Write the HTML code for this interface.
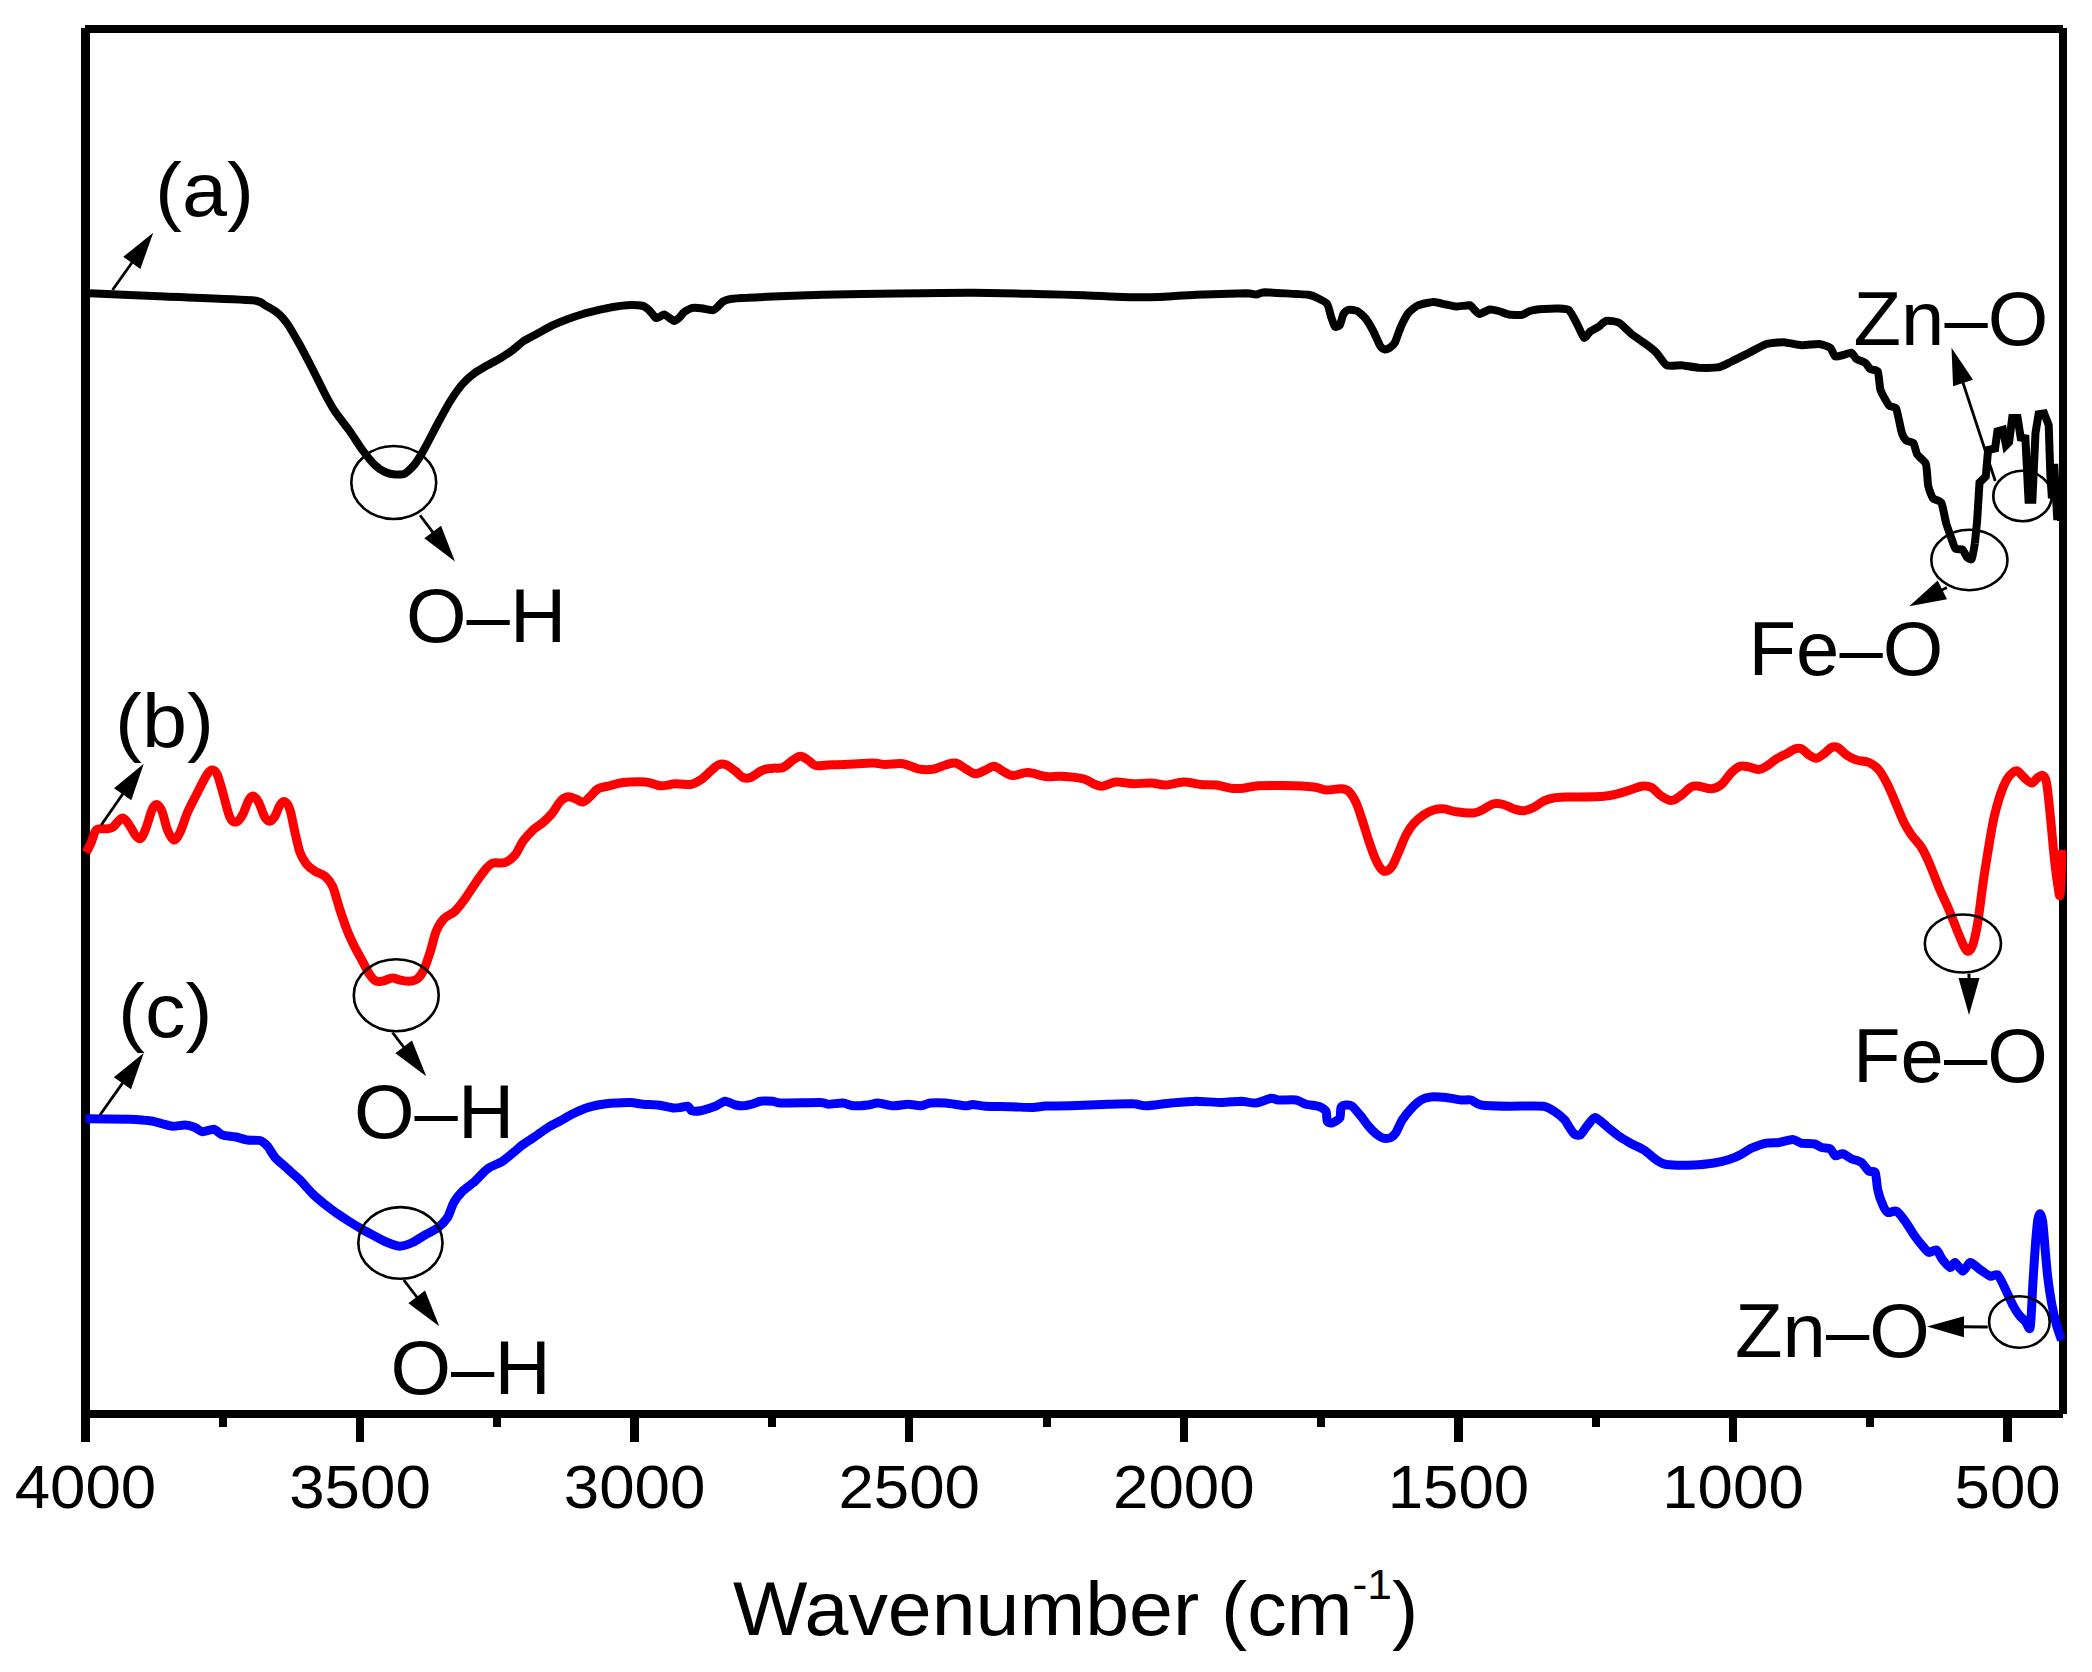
<!DOCTYPE html>
<html lang="en"><head><meta charset="utf-8"><title>FTIR spectra</title>
<style>html,body{margin:0;padding:0;background:#fff}svg{display:block}text{font-family:"Liberation Sans",Arial,sans-serif;fill:#000}</style>
</head><body>
<svg width="2092" height="1672" viewBox="0 0 2092 1672">
<rect width="2092" height="1672" fill="#fff"/>
<g fill="#000" shape-rendering="crispEdges">
<rect x="85.2" y="25" width="1977.80" height="8"/>
<rect x="81.3" y="28" width="8.4" height="1413.50"/>
<rect x="2059.1" y="28" width="8" height="1385.50"/>
<rect x="81.3" y="1410.25" width="1981.45" height="8"/>
<rect x="355.85" y="1414" width="8.3" height="27.5"/>
<rect x="630.45" y="1414" width="8.3" height="27.5"/>
<rect x="905.05" y="1414" width="8.3" height="27.5"/>
<rect x="1179.65" y="1414" width="8.3" height="27.5"/>
<rect x="1454.25" y="1414" width="8.3" height="27.5"/>
<rect x="1728.85" y="1414" width="8.3" height="27.5"/>
<rect x="2003.45" y="1414" width="8.3" height="27.5"/>
<rect x="218.70" y="1414" width="8" height="13.25"/>
<rect x="493.30" y="1414" width="8" height="13.25"/>
<rect x="767.90" y="1414" width="8" height="13.25"/>
<rect x="1042.50" y="1414" width="8" height="13.25"/>
<rect x="1317.10" y="1414" width="8" height="13.25"/>
<rect x="1591.70" y="1414" width="8" height="13.25"/>
<rect x="1866.30" y="1414" width="8" height="13.25"/>
</g>
<g fill="none" stroke-linejoin="round" stroke-linecap="butt">
<path d="M89.5 293.2C97.0 293.6 148.7 295.8 165.0 296.5C181.3 297.2 242.5 299.4 252.5 300.2C262.5 301.1 262.5 304.0 265.0 305.2C267.5 306.5 275.2 310.9 277.5 312.8C279.8 314.6 285.2 320.8 287.5 324.0C289.8 327.2 297.5 340.8 300.0 345.2C302.5 349.8 310.0 364.1 312.5 369.0C315.0 373.9 322.8 389.8 325.0 394.0C327.2 398.2 332.5 407.8 335.0 411.5C337.5 415.2 347.2 427.6 350.0 431.5C352.8 435.4 360.0 446.9 362.5 450.2C365.0 453.6 372.8 463.1 375.0 465.2C377.2 467.4 383.0 471.1 385.0 472.0C387.0 472.9 393.0 474.4 395.0 474.5C397.0 474.6 403.0 474.6 405.0 473.5C407.0 472.4 413.0 466.6 415.0 464.0C417.0 461.4 422.8 451.8 425.0 447.8C427.2 443.8 435.0 428.6 437.5 424.0C440.0 419.4 447.5 405.5 450.0 401.5C452.5 397.5 460.0 386.9 462.5 384.0C465.0 381.1 472.5 374.6 475.0 372.8C477.5 370.9 485.0 366.7 487.5 365.2C490.0 363.8 497.5 360.0 500.0 358.5C502.5 357.0 510.2 351.9 512.5 350.2C514.8 348.6 520.5 343.2 523.0 341.5C525.5 339.8 535.0 334.9 538.0 333.2C541.0 331.6 550.0 326.7 553.0 325.2C556.0 323.8 565.0 320.1 568.0 319.0C571.0 317.9 580.0 314.9 583.0 314.0C586.0 313.1 595.0 310.9 598.0 310.2C601.0 309.6 610.1 307.5 613.0 307.0C615.9 306.5 623.8 305.4 626.8 305.2C629.8 305.1 640.8 305.5 643.0 306.0C645.2 306.5 648.0 309.1 649.2 310.2C650.5 311.4 654.5 317.1 655.5 317.8C656.5 318.4 658.4 317.3 659.2 317.0C660.1 316.7 663.2 314.4 664.2 314.5C665.2 314.6 668.2 317.1 669.2 317.8C670.2 318.4 673.2 321.0 674.2 321.0C675.2 321.0 678.2 318.6 679.2 317.8C680.2 316.9 682.9 313.0 684.2 312.0C685.6 311.0 691.1 308.1 693.0 307.8C694.9 307.4 701.0 308.2 703.0 308.5C705.0 308.8 711.5 310.4 713.0 310.2C714.5 310.1 717.0 307.4 718.0 306.5C719.0 305.6 721.8 302.2 723.0 301.5C724.2 300.8 728.0 299.4 730.5 299.0C733.0 298.6 743.8 298.0 748.0 297.8C752.2 297.5 765.5 296.8 773.0 296.5C780.5 296.2 810.5 295.1 823.0 294.8C835.5 294.4 883.0 293.7 898.0 293.5C913.0 293.3 958.2 292.7 973.0 292.8C987.8 292.8 1035.0 294.0 1046.0 294.2C1057.0 294.5 1074.8 294.9 1083.5 295.2C1092.2 295.6 1126.0 297.1 1133.5 297.2C1141.0 297.4 1152.2 297.2 1158.5 297.0C1164.8 296.8 1187.2 295.1 1196.0 294.8C1204.8 294.4 1240.0 293.3 1246.0 293.2C1252.0 293.2 1254.1 294.6 1256.0 294.5C1257.9 294.4 1260.8 292.3 1264.8 292.2C1268.8 292.2 1291.6 293.8 1296.0 294.0C1300.4 294.2 1306.2 294.3 1308.5 294.8C1310.8 295.2 1316.6 297.6 1318.5 298.5C1320.4 299.4 1326.0 302.2 1327.2 304.0C1328.5 305.8 1330.2 314.2 1331.0 316.5C1331.8 318.8 1333.9 325.6 1334.8 326.5C1335.6 327.4 1338.9 326.5 1339.8 325.2C1340.6 324.0 1342.6 315.6 1343.5 314.0C1344.4 312.4 1347.1 310.1 1348.5 309.8C1349.9 309.4 1355.5 310.1 1357.2 311.0C1359.0 311.9 1364.4 316.9 1366.0 319.0C1367.6 321.1 1372.1 328.9 1373.5 331.5C1374.9 334.1 1378.6 343.4 1379.8 345.2C1380.9 347.1 1383.8 349.2 1384.8 349.5C1385.8 349.8 1388.8 348.4 1389.8 347.8C1390.8 347.1 1393.6 344.9 1394.8 342.8C1395.9 340.6 1399.6 329.5 1401.0 326.5C1402.4 323.5 1406.8 314.9 1408.5 312.8C1410.2 310.6 1416.0 306.3 1418.5 305.2C1421.0 304.2 1430.8 302.1 1433.5 302.0C1436.2 301.9 1443.8 304.1 1446.0 304.5C1448.2 304.9 1453.6 306.4 1456.0 306.5C1458.4 306.6 1467.9 304.9 1469.8 305.2C1471.6 305.6 1473.8 309.4 1474.8 310.2C1475.8 311.1 1478.2 314.1 1479.8 314.0C1481.2 313.9 1487.9 309.8 1489.8 309.5C1491.6 309.2 1496.6 310.5 1498.5 311.0C1500.4 311.5 1506.1 314.1 1508.5 314.5C1510.9 314.9 1520.1 315.1 1522.2 314.8C1524.4 314.4 1527.6 311.6 1529.8 311.0C1531.9 310.4 1540.6 309.2 1543.5 309.0C1546.4 308.8 1556.0 308.4 1558.5 308.5C1561.0 308.6 1567.2 308.8 1569.0 310.2C1570.8 311.7 1575.0 320.0 1576.5 322.8C1578.0 325.5 1582.6 336.9 1584.0 337.8C1585.4 338.6 1588.8 332.6 1590.2 331.5C1591.8 330.4 1597.4 327.6 1599.0 326.5C1600.6 325.4 1604.5 321.1 1606.5 320.8C1608.5 320.4 1616.5 321.4 1619.0 322.8C1621.5 324.1 1629.0 332.0 1631.5 334.0C1634.0 336.0 1641.5 340.9 1644.0 342.8C1646.5 344.6 1654.2 350.5 1656.5 352.8C1658.8 355.0 1664.0 364.0 1666.5 365.2C1669.0 366.5 1678.2 365.0 1681.5 365.2C1684.8 365.5 1695.2 367.6 1699.0 367.8C1702.8 367.9 1715.8 367.9 1719.0 367.2C1722.2 366.6 1728.5 362.9 1731.5 361.5C1734.5 360.1 1745.5 354.5 1749.0 352.8C1752.5 351.0 1763.0 345.1 1766.5 344.0C1770.0 342.9 1780.5 342.1 1784.0 342.2C1787.5 342.4 1798.0 345.1 1801.5 345.2C1805.0 345.4 1816.1 343.8 1819.0 344.0C1821.9 344.2 1828.6 346.5 1830.2 347.8C1831.9 349.0 1833.9 355.8 1835.2 356.5C1836.6 357.2 1842.4 355.1 1844.0 354.8C1845.6 354.4 1850.2 352.3 1851.5 352.8C1852.8 353.2 1855.1 358.0 1856.5 359.0C1857.9 360.0 1863.9 361.8 1865.2 362.8C1866.6 363.8 1869.0 368.1 1870.2 369.0C1871.5 369.9 1876.8 369.5 1877.8 371.5C1878.8 373.5 1879.7 386.6 1880.2 389.0C1880.8 391.4 1882.2 393.8 1883.1 395.5C1884.0 397.2 1888.0 404.4 1889.3 405.7C1890.6 407.0 1895.0 406.1 1896.3 408.8C1897.5 411.5 1900.8 429.7 1901.8 432.9C1902.8 436.1 1905.2 439.6 1906.4 440.6C1907.6 441.6 1912.3 441.6 1913.4 443.0C1914.5 444.4 1916.0 452.5 1917.3 454.6C1918.5 456.7 1924.8 460.9 1925.9 464.0C1927.0 467.1 1927.5 482.4 1928.2 485.8C1928.9 489.2 1931.6 496.5 1932.9 498.2C1934.2 499.9 1940.1 500.4 1941.4 502.9C1942.7 505.4 1945.1 519.4 1946.1 523.0C1947.1 526.6 1950.6 536.0 1951.5 538.6C1952.4 541.2 1954.3 547.6 1955.4 548.7C1956.5 549.8 1961.2 548.6 1962.4 549.5C1963.6 550.4 1966.2 556.4 1967.1 557.3C1968.0 558.2 1971.0 560.2 1971.8 558.8C1972.6 557.4 1974.6 544.8 1974.9 543.3" stroke="#000" stroke-width="8"/>
<path d="M1974.9 543.3L1977.2 520.0L1979.5 482.6L1985.8 476.4L1988.1 450.0L1995.1 448.4L1997.4 431.3L2002.9 429.8L2006.0 445.3L2009.1 442.2L2012.2 418.1L2017.6 418.1L2020.7 437.5L2025.4 438.3L2028.5 499.8L2032.4 499.8L2035.5 432.9L2038.6 414.2L2044.1 413.4L2048.7 425.1L2050.3 473.3L2051.9 498.2L2054.2 464.0L2057.3 520.0L2060.0 480.0L2061.0 521.0" stroke="#000" stroke-width="8" stroke-linejoin="miter" stroke-miterlimit="3"/>
<path d="M86.2 852.5C87.1 850.8 89.6 846.2 91.2 842.5C92.9 838.8 94.0 832.3 96.2 830.0C98.5 827.7 102.3 829.2 105.0 828.8C107.7 828.3 109.6 829.3 112.5 827.5C115.4 825.7 119.6 818.2 122.5 818.0C125.4 817.8 127.7 823.2 130.0 826.2C132.3 829.3 134.4 834.3 136.2 836.2C138.1 838.2 139.6 839.5 141.2 838.0C142.9 836.5 144.4 832.4 146.2 827.5C148.1 822.6 150.7 812.6 152.5 808.8C154.3 804.9 155.4 804.1 157.0 804.5C158.6 804.9 160.2 807.0 162.0 811.2C163.8 815.5 165.5 825.2 167.5 830.0C169.5 834.8 171.7 839.6 173.8 840.0C175.8 840.4 177.7 837.1 180.0 832.5C182.3 827.9 184.6 819.2 187.5 812.5C190.4 805.8 194.2 799.0 197.5 792.5C200.8 786.0 205.0 777.5 207.5 773.8C210.0 770.0 210.8 769.8 212.5 770.0C214.2 770.2 215.6 770.6 217.5 775.0C219.4 779.4 221.7 789.2 223.8 796.2C225.8 803.3 227.9 813.2 230.0 817.5C232.1 821.8 234.2 822.4 236.2 822.0C238.3 821.6 240.4 818.7 242.5 815.0C244.6 811.3 246.9 803.1 248.8 800.0C250.6 796.9 252.1 795.8 253.8 796.2C255.4 796.7 256.9 799.0 258.8 802.5C260.6 806.0 263.1 814.4 265.0 817.5C266.9 820.6 268.3 821.5 270.0 821.2C271.7 821.0 273.3 819.0 275.0 816.2C276.7 813.5 278.3 807.4 280.0 805.0C281.7 802.6 283.3 800.9 285.0 801.8C286.7 802.6 288.3 804.9 290.0 810.0C291.7 815.1 293.3 825.4 295.0 832.5C296.7 839.6 298.1 847.3 300.0 852.5C301.9 857.7 303.8 860.6 306.2 863.8C308.8 866.9 311.9 869.2 315.0 871.2C318.1 873.3 322.1 873.8 325.0 876.2C327.9 878.8 330.0 880.6 332.5 886.2C335.0 891.9 337.5 902.5 340.0 910.0C342.5 917.5 345.0 925.0 347.5 931.2C350.0 937.5 352.5 942.5 355.0 947.5C357.5 952.5 360.0 956.7 362.5 961.2C365.0 965.8 367.7 971.7 370.0 975.0C372.3 978.3 374.0 980.3 376.2 981.2C378.5 982.2 381.0 981.3 383.8 980.8C386.5 980.2 389.8 978.1 392.5 978.0C395.2 977.9 397.1 979.5 400.0 980.0C402.9 980.5 407.1 981.5 410.0 981.2C412.9 981.0 415.2 980.6 417.5 978.8C419.8 976.9 421.7 974.4 423.8 970.0C425.8 965.6 427.9 959.0 430.0 952.5C432.1 946.0 434.0 936.9 436.2 931.2C438.5 925.6 440.6 922.1 443.8 918.8C446.9 915.4 451.5 914.6 455.0 911.2C458.5 907.9 461.7 903.3 465.0 898.8C468.3 894.2 471.7 888.5 475.0 883.8C478.3 879.0 482.1 873.4 485.0 870.0C487.9 866.6 489.2 864.5 492.5 863.2C495.8 862.0 501.2 863.9 505.0 862.5C508.8 861.1 512.0 858.5 515.0 855.0C518.0 851.5 520.0 845.4 523.0 841.2C526.0 837.1 529.7 833.1 533.0 830.0C536.3 826.9 539.9 825.2 543.0 822.5C546.1 819.8 548.8 817.3 551.8 813.8C554.7 810.2 557.8 804.1 560.5 801.2C563.2 798.4 565.5 797.2 568.0 796.8C570.5 796.3 573.0 797.9 575.5 798.8C578.0 799.6 580.5 802.4 583.0 802.0C585.5 801.6 588.0 798.5 590.5 796.2C593.0 794.0 595.1 790.4 598.0 788.8C600.9 787.1 603.8 787.3 608.0 786.2C612.2 785.2 616.8 783.2 623.0 782.5C629.2 781.8 639.2 781.5 645.5 782.0C651.8 782.5 655.5 785.5 660.5 785.8C665.5 786.0 670.5 784.0 675.5 783.8C680.5 783.5 686.3 785.1 690.5 784.5C694.7 783.9 697.2 782.2 700.5 780.0C703.8 777.8 707.6 773.8 710.5 771.2C713.4 768.8 715.5 766.1 718.0 765.0C720.5 763.9 722.6 763.5 725.5 764.5C728.4 765.5 732.6 769.1 735.5 771.2C738.4 773.4 740.5 776.5 743.0 777.5C745.5 778.5 747.2 778.8 750.5 777.5C753.8 776.2 759.2 771.5 763.0 770.0C766.8 768.5 769.7 768.7 773.0 768.2C776.3 767.8 779.7 768.9 783.0 767.5C786.3 766.1 790.1 761.9 793.0 760.0C795.9 758.1 798.0 756.2 800.5 756.2C803.0 756.2 805.5 758.5 808.0 760.0C810.5 761.5 812.2 764.7 815.5 765.5C818.8 766.3 822.6 765.2 828.0 765.0C833.4 764.8 840.5 764.6 848.0 764.2C855.5 763.9 866.8 763.0 873.0 763.0C879.2 763.0 880.5 764.4 885.5 764.5C890.5 764.6 897.6 763.0 903.0 763.8C908.4 764.5 913.0 767.8 918.0 768.8C923.0 769.7 928.4 769.9 933.0 769.2C937.6 768.6 941.8 766.0 945.5 765.0C949.2 764.0 952.2 762.4 955.5 763.0C958.8 763.6 962.2 767.0 965.5 768.8C968.8 770.5 972.2 773.5 975.5 773.8C978.8 774.0 982.4 771.2 985.5 770.0C988.6 768.8 991.3 766.0 994.2 766.2C997.2 766.5 999.9 769.7 1003.0 771.2C1006.1 772.8 1008.8 775.3 1013.0 775.5C1017.2 775.7 1022.5 772.3 1028.0 772.5C1033.5 772.7 1040.5 775.9 1046.0 776.5C1051.5 777.1 1054.8 775.9 1061.0 776.2C1067.2 776.6 1078.1 777.5 1083.5 778.8C1088.9 780.0 1090.4 782.5 1093.5 783.8C1096.6 785.0 1098.5 786.5 1102.2 786.2C1106.0 786.0 1110.8 782.4 1116.0 782.0C1121.2 781.6 1127.7 783.6 1133.5 783.8C1139.3 783.9 1145.6 782.8 1151.0 783.0C1156.4 783.2 1160.6 785.2 1166.0 785.0C1171.4 784.8 1177.7 782.1 1183.5 782.0C1189.3 781.9 1195.6 784.0 1201.0 784.5C1206.4 785.0 1211.0 784.4 1216.0 785.0C1221.0 785.6 1226.4 787.7 1231.0 788.2C1235.6 788.8 1238.9 788.7 1243.5 788.2C1248.1 787.8 1251.8 786.2 1258.5 785.8C1265.2 785.3 1274.3 785.3 1283.5 785.5C1292.7 785.7 1306.4 786.2 1313.5 787.0C1320.6 787.8 1321.4 789.7 1326.0 790.0C1330.6 790.3 1337.2 788.5 1341.0 788.8C1344.8 789.0 1346.0 789.0 1348.5 791.2C1351.0 793.5 1353.7 797.7 1356.0 802.5C1358.3 807.3 1360.2 813.8 1362.2 820.0C1364.3 826.2 1366.4 833.8 1368.5 840.0C1370.6 846.2 1372.7 852.7 1374.8 857.5C1376.8 862.3 1379.1 866.5 1381.0 868.8C1382.9 871.0 1384.1 871.7 1386.0 871.2C1387.9 870.8 1390.2 869.4 1392.2 866.2C1394.3 863.1 1396.2 857.7 1398.5 852.5C1400.8 847.3 1403.5 839.8 1406.0 835.0C1408.5 830.2 1410.6 827.1 1413.5 823.8C1416.4 820.4 1420.2 817.3 1423.5 815.0C1426.8 812.7 1430.2 811.0 1433.5 810.0C1436.8 809.0 1439.8 808.5 1443.5 808.8C1447.2 809.0 1451.0 811.0 1456.0 811.8C1461.0 812.5 1468.9 813.4 1473.5 813.0C1478.1 812.6 1480.2 810.8 1483.5 809.2C1486.8 807.7 1490.2 804.5 1493.5 803.8C1496.8 803.0 1500.2 803.7 1503.5 804.5C1506.8 805.3 1510.2 807.7 1513.5 808.8C1516.8 809.8 1520.2 811.0 1523.5 810.8C1526.8 810.5 1530.2 809.1 1533.5 807.5C1536.8 805.9 1540.2 802.8 1543.5 801.2C1546.8 799.7 1549.2 798.7 1553.5 798.0C1557.8 797.3 1560.6 797.3 1569.0 797.0C1577.4 796.7 1594.4 797.2 1604.0 796.2C1613.6 795.3 1620.2 792.9 1626.5 791.2C1632.8 789.6 1637.3 786.9 1641.5 786.2C1645.7 785.6 1648.2 785.8 1651.5 787.5C1654.8 789.2 1658.2 794.1 1661.5 796.2C1664.8 798.4 1668.2 800.7 1671.5 800.5C1674.8 800.3 1678.2 797.3 1681.5 795.0C1684.8 792.7 1688.6 788.2 1691.5 786.8C1694.4 785.3 1695.7 785.9 1699.0 786.2C1702.3 786.6 1707.8 789.0 1711.5 788.8C1715.2 788.5 1718.2 787.2 1721.5 784.5C1724.8 781.8 1728.4 775.5 1731.5 772.5C1734.6 769.5 1737.3 767.2 1740.2 766.2C1743.2 765.3 1745.9 766.5 1749.0 767.0C1752.1 767.5 1756.1 769.6 1759.0 769.5C1761.9 769.4 1763.6 768.0 1766.5 766.2C1769.4 764.5 1773.2 760.8 1776.5 758.8C1779.8 756.7 1783.4 755.4 1786.5 753.8C1789.6 752.1 1792.8 749.6 1795.2 748.8C1797.8 747.9 1799.2 747.7 1801.5 748.8C1803.8 749.8 1806.5 753.4 1809.0 755.0C1811.5 756.6 1814.0 758.5 1816.5 758.2C1819.0 758.0 1821.5 755.5 1824.0 753.8C1826.5 752.0 1829.2 748.5 1831.5 747.5C1833.8 746.5 1835.2 746.2 1837.8 747.5C1840.2 748.8 1843.4 752.9 1846.5 755.0C1849.6 757.1 1852.8 758.8 1856.5 760.0C1860.2 761.2 1865.2 760.8 1869.0 762.5C1872.8 764.2 1875.9 766.2 1879.0 770.0C1882.1 773.8 1884.8 779.2 1887.8 785.0C1890.7 790.8 1893.8 798.8 1896.5 805.0C1899.2 811.2 1901.5 817.5 1904.0 822.5C1906.5 827.5 1908.6 830.8 1911.5 835.0C1914.4 839.2 1918.6 842.9 1921.5 847.5C1924.4 852.1 1926.1 855.8 1929.0 862.5C1931.9 869.2 1935.7 879.6 1939.0 887.5C1942.3 895.4 1946.1 903.1 1949.0 910.0C1951.9 916.9 1954.2 923.1 1956.5 928.8C1958.8 934.4 1960.9 940.0 1962.8 943.8C1964.6 947.5 1966.1 951.0 1967.8 951.2C1969.4 951.5 1971.1 949.8 1972.8 945.0C1974.4 940.2 1976.1 932.5 1977.8 922.5C1979.4 912.5 1981.1 896.7 1982.8 885.0C1984.4 873.3 1985.9 863.8 1987.8 852.5C1989.6 841.2 1991.9 827.1 1994.0 817.5C1996.1 807.9 1998.2 801.2 2000.2 795.0C2002.3 788.8 2004.4 783.8 2006.5 780.0C2008.6 776.2 2010.9 774.0 2012.8 772.5C2014.6 771.0 2015.9 770.4 2017.8 771.2C2019.6 772.1 2021.7 775.5 2024.0 777.5C2026.3 779.5 2029.2 783.0 2031.5 783.0C2033.8 783.0 2035.9 778.8 2037.8 777.5C2039.6 776.2 2041.3 774.7 2042.8 775.5C2044.2 776.3 2045.2 775.9 2046.5 782.5C2047.8 789.1 2049.0 802.9 2050.2 815.0C2051.5 827.1 2052.8 843.3 2054.0 855.0C2055.2 866.7 2056.7 878.5 2057.8 885.0C2058.8 891.5 2059.5 899.6 2060.2 893.8C2061.0 887.9 2061.7 857.3 2062.0 850.0" stroke="#f00" stroke-width="9"/>
<path d="M85.5 1118.8C90.7 1118.8 122.5 1119.0 130.0 1119.2C137.5 1119.5 146.2 1120.2 150.0 1120.8C153.8 1121.3 159.9 1123.1 162.5 1123.8C165.1 1124.4 169.9 1126.1 172.5 1126.2C175.1 1126.4 182.4 1124.9 185.0 1125.0C187.6 1125.1 193.0 1126.7 195.0 1127.5C197.0 1128.3 200.3 1131.5 202.5 1131.8C204.7 1132.0 211.4 1128.9 213.8 1129.2C216.1 1129.6 220.0 1134.1 222.5 1135.0C225.0 1135.9 232.1 1136.2 235.0 1136.8C237.9 1137.3 244.6 1139.6 247.5 1140.0C250.4 1140.4 257.7 1139.8 260.0 1140.5C262.3 1141.2 265.8 1144.3 267.5 1146.2C269.2 1148.2 272.7 1154.9 275.0 1157.5C277.3 1160.1 284.6 1166.1 287.5 1168.8C290.4 1171.4 297.1 1177.1 300.0 1180.0C302.9 1182.9 309.6 1190.9 312.5 1193.8C315.4 1196.6 322.1 1202.2 325.0 1204.5C327.9 1206.8 334.6 1211.7 337.5 1213.8C340.4 1215.8 347.1 1220.2 350.0 1222.0C352.9 1223.8 359.6 1227.8 362.5 1229.5C365.4 1231.2 372.1 1234.7 375.0 1236.2C377.9 1237.8 384.6 1241.3 387.5 1242.5C390.4 1243.7 397.1 1246.2 400.0 1246.2C402.9 1246.2 409.6 1243.8 412.5 1242.5C415.4 1241.2 422.1 1236.7 425.0 1235.0C427.9 1233.3 434.9 1230.0 437.5 1228.0C440.1 1226.0 445.6 1220.5 447.5 1217.5C449.4 1214.5 452.0 1205.6 453.8 1202.5C455.5 1199.4 460.0 1193.7 462.5 1191.2C465.0 1188.8 472.1 1183.9 475.0 1181.2C477.9 1178.6 484.3 1171.1 487.5 1168.8C490.7 1166.4 499.3 1163.3 502.5 1161.2C505.7 1159.2 512.6 1153.2 515.0 1151.2C517.4 1149.3 520.6 1146.2 523.0 1144.5C525.4 1142.8 532.6 1138.2 535.5 1136.2C538.4 1134.3 545.1 1129.3 548.0 1127.5C550.9 1125.7 557.6 1122.4 560.5 1120.8C563.4 1119.1 570.1 1115.2 573.0 1113.8C575.9 1112.3 582.6 1109.3 585.5 1108.2C588.4 1107.2 595.1 1105.6 598.0 1105.0C600.9 1104.4 606.7 1103.5 610.5 1103.2C614.3 1103.0 626.7 1102.4 630.5 1102.5C634.3 1102.6 639.8 1104.0 643.0 1104.2C646.2 1104.5 654.5 1104.6 658.0 1105.0C661.5 1105.4 670.4 1107.7 673.0 1108.0C675.6 1108.3 678.8 1107.7 680.5 1107.5C682.2 1107.3 686.7 1105.9 688.0 1106.2C689.3 1106.6 690.3 1110.2 691.8 1110.8C693.2 1111.3 697.7 1111.3 700.5 1110.8C703.3 1110.2 712.6 1107.4 715.5 1106.2C718.4 1105.1 722.7 1101.4 725.0 1101.2C727.3 1101.1 733.4 1104.5 735.5 1105.0C737.6 1105.5 741.0 1105.9 743.0 1105.8C745.0 1105.6 751.0 1104.3 753.0 1103.8C755.0 1103.2 758.2 1101.5 760.5 1101.2C762.8 1101.0 770.7 1101.0 773.0 1101.2C775.3 1101.5 775.0 1102.9 780.5 1103.0C786.0 1103.1 815.0 1102.4 820.5 1102.5C826.0 1102.6 825.4 1104.2 828.0 1104.2C830.6 1104.3 840.1 1102.8 843.0 1103.0C845.9 1103.2 850.1 1105.5 853.0 1105.8C855.9 1106.0 865.1 1105.3 868.0 1105.0C870.9 1104.7 875.1 1102.9 878.0 1103.0C880.9 1103.1 889.5 1105.6 893.0 1105.8C896.5 1105.9 904.8 1104.2 908.0 1104.2C911.2 1104.2 917.9 1105.9 920.5 1105.8C923.1 1105.6 927.6 1103.3 930.5 1103.0C933.4 1102.7 941.4 1102.7 945.5 1103.0C949.6 1103.3 962.3 1105.6 965.5 1105.8C968.7 1105.9 970.7 1104.4 973.0 1104.5C975.3 1104.6 981.1 1106.0 985.5 1106.2C989.9 1106.5 1005.0 1106.6 1010.5 1106.8C1016.0 1106.9 1028.9 1107.6 1033.0 1107.5C1037.1 1107.4 1041.6 1106.2 1046.0 1106.0C1050.4 1105.8 1063.7 1106.0 1071.0 1105.8C1078.3 1105.5 1101.2 1104.5 1108.5 1104.2C1115.8 1104.0 1129.1 1103.6 1133.5 1103.8C1137.9 1103.9 1141.6 1105.8 1146.0 1105.8C1150.4 1105.7 1165.2 1103.5 1171.0 1103.0C1176.8 1102.5 1190.2 1101.3 1196.0 1101.2C1201.8 1101.2 1215.8 1102.5 1221.0 1102.5C1226.2 1102.5 1236.9 1101.2 1241.0 1101.2C1245.1 1101.3 1252.5 1103.3 1256.0 1103.0C1259.5 1102.7 1268.4 1098.6 1271.0 1098.2C1273.6 1097.9 1275.6 1099.8 1278.5 1100.0C1281.4 1100.2 1292.8 1099.5 1296.0 1100.0C1299.2 1100.5 1303.4 1103.5 1306.0 1104.2C1308.6 1105.0 1316.2 1105.4 1318.5 1106.2C1320.8 1107.1 1325.0 1109.5 1326.0 1111.2C1327.0 1113.0 1326.5 1119.9 1327.2 1121.2C1328.0 1122.6 1330.8 1123.4 1332.2 1123.0C1333.7 1122.6 1338.7 1119.8 1339.8 1118.0C1340.8 1116.2 1340.3 1109.0 1341.0 1107.5C1341.7 1106.0 1344.7 1105.1 1346.0 1105.0C1347.3 1104.9 1350.5 1104.9 1352.2 1106.2C1354.0 1107.6 1359.1 1113.9 1361.0 1116.2C1362.9 1118.6 1366.8 1124.2 1368.5 1126.2C1370.2 1128.3 1374.2 1132.3 1376.0 1133.8C1377.8 1135.2 1381.8 1137.8 1383.5 1138.2C1385.2 1138.7 1389.5 1138.2 1391.0 1137.5C1392.5 1136.8 1394.7 1134.5 1396.0 1132.5C1397.3 1130.5 1400.5 1122.8 1402.2 1120.0C1404.0 1117.2 1408.8 1111.1 1411.0 1108.8C1413.2 1106.4 1418.7 1101.4 1421.0 1100.0C1423.3 1098.6 1428.1 1097.3 1431.0 1097.0C1433.9 1096.7 1442.5 1097.2 1446.0 1097.5C1449.5 1097.8 1458.1 1099.7 1461.0 1100.0C1463.9 1100.3 1468.7 1099.4 1471.0 1100.0C1473.3 1100.6 1476.6 1104.3 1481.0 1105.0C1485.4 1105.7 1501.2 1106.1 1508.5 1106.2C1515.8 1106.4 1538.0 1105.5 1543.5 1106.2C1549.0 1107.0 1553.5 1110.9 1556.0 1112.5C1558.5 1114.1 1563.2 1118.3 1564.8 1120.0C1566.3 1121.7 1567.9 1125.1 1569.0 1126.8C1570.1 1128.4 1572.7 1132.8 1574.0 1133.8C1575.3 1134.7 1578.6 1136.0 1580.2 1135.0C1581.9 1134.0 1586.0 1127.0 1587.8 1125.0C1589.5 1123.0 1593.1 1117.4 1595.2 1117.5C1597.4 1117.6 1603.7 1124.1 1606.5 1126.2C1609.3 1128.4 1616.1 1134.2 1619.0 1136.2C1621.9 1138.3 1628.6 1142.1 1631.5 1143.8C1634.4 1145.4 1641.1 1148.1 1644.0 1150.0C1646.9 1151.9 1653.9 1158.3 1656.5 1160.0C1659.1 1161.7 1662.1 1163.9 1666.5 1164.5C1670.9 1165.1 1688.5 1165.2 1694.0 1165.0C1699.5 1164.8 1709.9 1163.6 1714.0 1163.0C1718.1 1162.4 1725.8 1160.5 1729.0 1159.5C1732.2 1158.5 1738.9 1155.6 1741.5 1154.2C1744.1 1152.9 1748.6 1149.5 1751.5 1148.2C1754.4 1147.0 1763.3 1143.9 1766.5 1143.2C1769.7 1142.6 1775.9 1142.9 1779.0 1142.5C1782.1 1142.1 1790.1 1139.4 1792.8 1139.5C1795.4 1139.6 1799.0 1142.8 1801.5 1143.2C1804.0 1143.7 1811.7 1143.3 1814.0 1143.8C1816.3 1144.2 1819.6 1146.9 1821.5 1147.5C1823.4 1148.1 1828.6 1147.8 1830.2 1148.8C1831.9 1149.7 1833.8 1155.2 1835.2 1155.8C1836.7 1156.3 1840.9 1153.4 1842.8 1153.8C1844.6 1154.1 1849.3 1157.7 1851.5 1158.8C1853.7 1159.8 1859.5 1161.0 1861.5 1162.5C1863.5 1164.0 1867.4 1170.1 1869.0 1171.2C1870.6 1172.4 1874.2 1170.3 1875.2 1172.5C1876.3 1174.7 1876.9 1186.2 1877.8 1190.0C1878.6 1193.8 1881.6 1202.4 1882.8 1205.0C1883.9 1207.6 1886.1 1211.8 1887.8 1212.5C1889.4 1213.2 1894.5 1210.2 1896.5 1211.2C1898.5 1212.3 1903.2 1218.5 1905.2 1221.2C1907.3 1224.0 1912.0 1232.1 1914.0 1235.0C1916.0 1237.9 1921.0 1244.2 1922.8 1246.2C1924.5 1248.3 1927.4 1252.1 1929.0 1252.5C1930.6 1252.9 1934.9 1249.1 1936.5 1250.0C1938.1 1250.9 1941.1 1258.0 1942.8 1260.0C1944.4 1262.0 1948.8 1267.2 1950.2 1267.5C1951.7 1267.8 1953.8 1262.1 1955.2 1262.5C1956.7 1262.9 1961.0 1271.2 1962.8 1271.2C1964.5 1271.2 1968.4 1262.8 1970.2 1262.5C1972.1 1262.2 1976.7 1267.1 1979.0 1268.8C1981.3 1270.4 1988.1 1275.5 1990.2 1276.2C1992.4 1277.0 1996.0 1273.5 1997.8 1275.0C1999.5 1276.5 2003.5 1285.2 2005.2 1288.8C2007.0 1292.2 2011.1 1301.9 2012.8 1305.0C2014.4 1308.1 2017.5 1313.1 2019.0 1315.0C2020.5 1316.9 2023.9 1319.8 2025.2 1321.2C2026.6 1322.7 2029.4 1331.7 2030.2 1327.5C2031.1 1323.3 2032.2 1294.3 2032.8 1285.0C2033.3 1275.7 2034.7 1255.1 2035.2 1247.5C2035.8 1239.9 2037.2 1223.9 2037.8 1220.0C2038.3 1216.1 2039.7 1213.5 2040.2 1213.8C2040.8 1214.0 2042.2 1218.3 2042.8 1222.5C2043.3 1226.7 2044.7 1243.6 2045.2 1250.0C2045.8 1256.4 2047.0 1271.4 2047.8 1277.5C2048.5 1283.6 2050.5 1297.0 2051.5 1302.5C2052.5 1308.0 2055.3 1320.6 2056.5 1325.0C2057.7 1329.4 2060.9 1338.2 2061.5 1340.0" stroke="#00f" stroke-width="9"/>
</g>
<g fill="none" stroke="#000" stroke-width="2.6">
<ellipse cx="393.75" cy="482.50" rx="42.45" ry="36.45"/>
<ellipse cx="2022.50" cy="496.00" rx="29.20" ry="25.20"/>
<ellipse cx="1969.40" cy="560.00" rx="38.10" ry="30.20"/>
<ellipse cx="396.25" cy="995.25" rx="42.45" ry="35.95"/>
<ellipse cx="1962.90" cy="943.50" rx="38.10" ry="28.95"/>
<ellipse cx="400.40" cy="1242.90" rx="42.10" ry="35.80"/>
<ellipse cx="2019.40" cy="1322.00" rx="30.30" ry="25.70"/>
</g>
<g stroke="#000" fill="#000">
<line x1="112.50" y1="290.00" x2="132.95" y2="261.26" stroke-width="2.8"/>
<polygon stroke="none" points="153.25,232.75 140.35,268.98 123.24,256.80"/>
<line x1="420.00" y1="515.25" x2="433.88" y2="533.59" stroke-width="2.8"/>
<polygon stroke="none" points="455.00,561.50 424.30,538.33 441.05,525.66"/>
<line x1="1995.25" y1="481.00" x2="1962.42" y2="381.00" stroke-width="2.8"/>
<polygon stroke="none" points="1951.50,347.75 1973.02,379.63 1953.07,386.18"/>
<line x1="1946.90" y1="587.60" x2="1940.55" y2="590.75" stroke-width="2.8"/>
<polygon stroke="none" points="1909.20,606.30 1937.68,580.45 1947.01,599.27"/>
<line x1="101.25" y1="825.00" x2="123.80" y2="792.51" stroke-width="2.8"/>
<polygon stroke="none" points="143.75,763.75 131.28,800.13 114.03,788.16"/>
<line x1="392.50" y1="1032.50" x2="404.87" y2="1048.54" stroke-width="2.8"/>
<polygon stroke="none" points="426.25,1076.25 395.34,1053.37 411.96,1040.54"/>
<line x1="1969.00" y1="973.75" x2="1969.00" y2="980.00" stroke-width="3"/>
<polygon stroke="none" points="1969.00,1015.00 1958.50,978.00 1979.50,978.00"/>
<line x1="100.00" y1="1115.00" x2="123.57" y2="1081.60" stroke-width="2.8"/>
<polygon stroke="none" points="143.75,1053.00 131.00,1089.29 113.84,1077.18"/>
<line x1="403.75" y1="1280.00" x2="417.94" y2="1298.49" stroke-width="2.8"/>
<polygon stroke="none" points="439.25,1326.25 408.39,1303.29 425.05,1290.51"/>
<line x1="1987.75" y1="1327.00" x2="1962.00" y2="1326.79" stroke-width="3"/>
<polygon stroke="none" points="1927.00,1326.50 1964.09,1316.30 1963.91,1337.30"/>
</g>
<text transform="translate(155.00 215.50) scale(1.066 1)" font-size="76.00" text-anchor="start">(a)</text>
<text transform="translate(115.00 747.00) scale(1.066 1)" font-size="76.00" text-anchor="start">(b)</text>
<text transform="translate(118.00 1037.00) scale(1.066 1)" font-size="76.00" text-anchor="start">(c)</text>
<text transform="translate(406.00 642.20) scale(1.018 1)" font-size="76.50" text-anchor="start">O–H</text>
<text transform="translate(354.00 1137.50) scale(1.018 1)" font-size="76.50" text-anchor="start">O–H</text>
<text transform="translate(390.50 1393.75) scale(1.018 1)" font-size="76.50" text-anchor="start">O–H</text>
<text transform="translate(1853.50 344.75) scale(1.018 1)" font-size="76.50" text-anchor="start">Zn–O</text>
<text transform="translate(1748.50 674.80) scale(1.018 1)" font-size="76.50" text-anchor="start">Fe–O</text>
<text transform="translate(1853.00 1082.00) scale(1.018 1)" font-size="76.50" text-anchor="start">Fe–O</text>
<text transform="translate(1735.00 1357.00) scale(1.018 1)" font-size="76.50" text-anchor="start">Zn–O</text>
<text transform="translate(85.40 1507.50) scale(1.038 1)" font-size="61.30" text-anchor="middle">4000</text>
<text transform="translate(360.00 1507.50) scale(1.038 1)" font-size="61.30" text-anchor="middle">3500</text>
<text transform="translate(634.60 1507.50) scale(1.038 1)" font-size="61.30" text-anchor="middle">3000</text>
<text transform="translate(909.20 1507.50) scale(1.038 1)" font-size="61.30" text-anchor="middle">2500</text>
<text transform="translate(1183.80 1507.50) scale(1.038 1)" font-size="61.30" text-anchor="middle">2000</text>
<text transform="translate(1458.40 1507.50) scale(1.038 1)" font-size="61.30" text-anchor="middle">1500</text>
<text transform="translate(1733.00 1507.50) scale(1.038 1)" font-size="61.30" text-anchor="middle">1000</text>
<text transform="translate(2007.60 1507.50) scale(1.038 1)" font-size="61.30" text-anchor="middle">500</text>
<text transform="translate(733.00 1635.25) scale(1.045 1)" font-size="75.50" text-anchor="start">Wavenumber (cm<tspan font-size="42.5" dy="-36">-1</tspan><tspan dy="36">)</tspan></text>
</svg>
</body></html>
